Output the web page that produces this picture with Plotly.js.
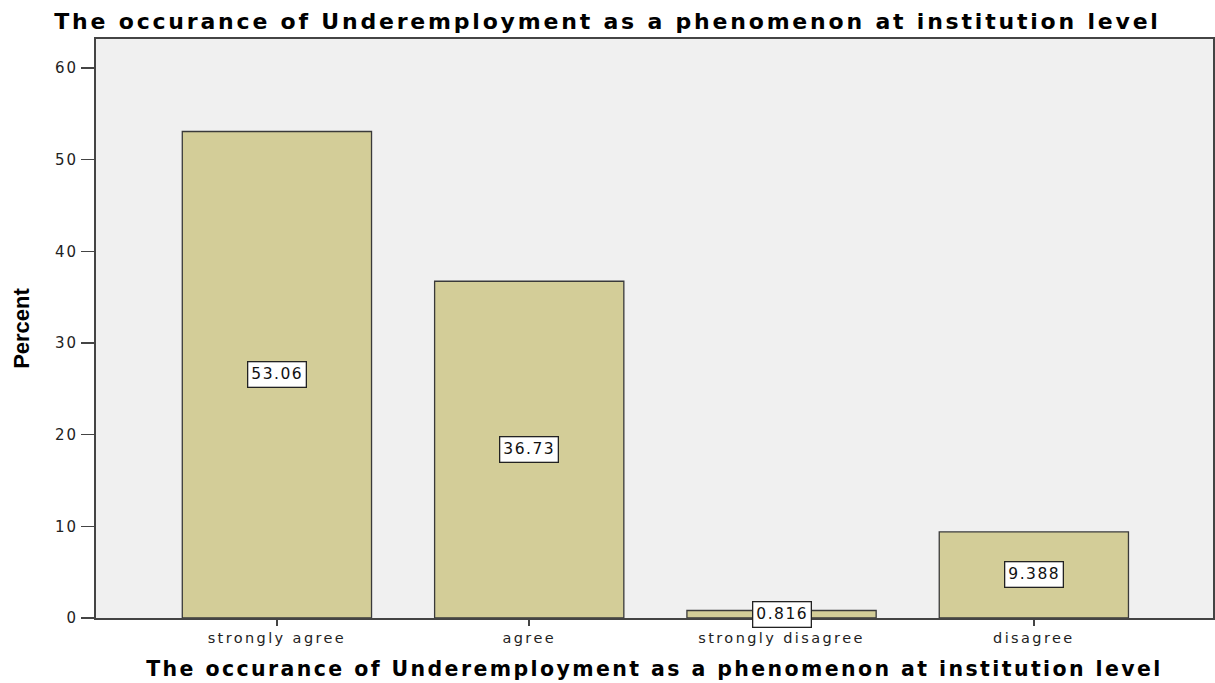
<!DOCTYPE html>
<html>
<head>
<meta charset="utf-8">
<script src="https://cdn.plot.ly/plotly-3.0.1.min.js"></script>
<style>
html,body{margin:0;padding:0;background:#fff;}
#chart{width:1215px;height:683px;}
.gtitle{letter-spacing:2.8px;}
.g-xtitle text{letter-spacing:2.4px;}
.xtick text{letter-spacing:2.4px;}
.ytick text{letter-spacing:2px;}
.annotation-text{letter-spacing:1.5px;}
</style>
</head>
<body>
<div id="chart"></div>
<script>
const categories = ["strongly agree", "agree", "strongly disagree", "disagree"];
const percents = [53.06, 36.73, 0.816, 9.388];
const labels = ["53.06", "36.73", "0.816", "9.388"];
const chartTitle = "The occurance of Underemployment as a phenomenon at institution level";
const yTickVals = [0, 10, 20, 30, 40, 50, 60];

const trace = {
  type: "bar",
  x: categories,
  y: percents,
  width: 0.75,
  marker: { color: "#D3CD98", line: { color: "#3a3a3a", width: 1.3 } },
  hoverinfo: "none"
};

const annotations = categories.map((c, i) => ({
  x: c, y: percents[i] / 2, xref: "x", yref: "y",
  text: labels[i], showarrow: false,
  bgcolor: "#ffffff", bordercolor: "#222", borderwidth: 1.3, borderpad: 3,
  font: { family: "DejaVu Sans, sans-serif", size: 15.5, color: "#111" }
}));

const layout = {
  width: 1215, height: 683,
  margin: { l: 96, r: 2, t: 39, b: 65 },
  paper_bgcolor: "#ffffff",
  plot_bgcolor: "#F0F0F0",
  title: {
    text: "<b>" + chartTitle + "</b>",
    x: 0.5, xanchor: "center", y: 0.969, yanchor: "middle",
    font: { family: "DejaVu Sans, sans-serif", size: 22, color: "#000" }
  },
  xaxis: {
    type: "category",
    range: [-0.717, 3.71],
    showline: true, linecolor: "#444", linewidth: 2, mirror: true,
    ticks: "outside", ticklen: 6, tickcolor: "#444", tickwidth: 1.5,
    showgrid: false,
    tickfont: { family: "DejaVu Sans, sans-serif", size: 14.5, color: "#222" },
    title: {
      text: "<b>" + chartTitle + "</b>", standoff: 16,
      font: { family: "DejaVu Sans, sans-serif", size: 20.5, color: "#000" }
    }
  },
  yaxis: {
    range: [0, 63.15],
    tickvals: yTickVals,
    showline: true, linecolor: "#444", linewidth: 2, mirror: true,
    ticks: "outside", ticklen: 13, tickcolor: "#444", tickwidth: 1.5,
    showgrid: false, zeroline: false,
    tickfont: { family: "DejaVu Sans, sans-serif", size: 15, color: "#222" },
    title: {
      text: "<b>Percent</b>", standoff: 19,
      font: { family: "Liberation Sans Narrow, Arial Narrow, sans-serif", size: 22, color: "#000" }
    }
  },
  annotations: annotations,
  showlegend: false
};

Plotly.newPlot("chart", [trace], layout, { displayModeBar: false, staticPlot: true });
</script>
</body>
</html>
